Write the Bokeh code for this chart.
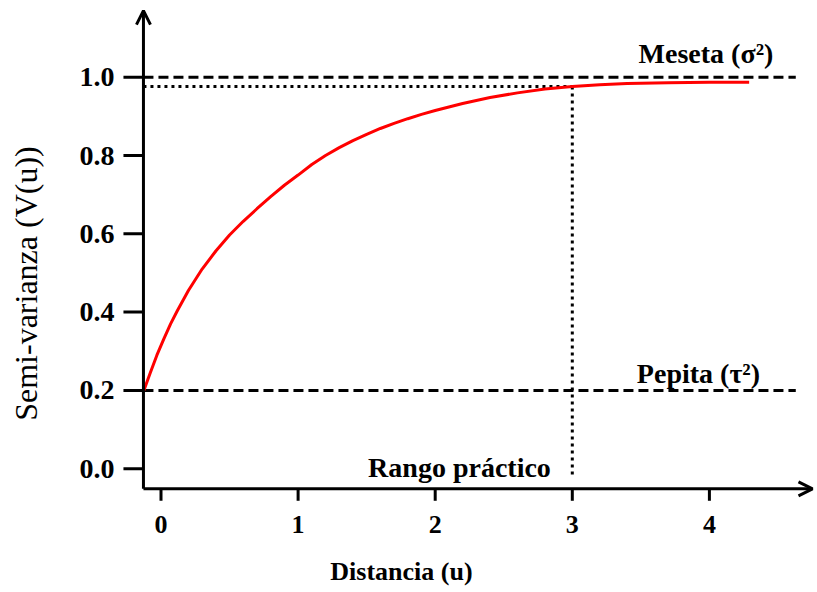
import numpy as np
from bokeh.plotting import figure
from bokeh.models import Range1d, Arrow, OpenHead, Label, ColumnDataSource
from bokeh.core.properties import value
from bokeh.embed import file_html
from bokeh.resources import INLINE

# ---- data ----
distance = [-0.125, -0.08, -0.03, 0.02, 0.07, 0.12, 0.2, 0.3, 0.4, 0.5, 0.6, 0.7, 0.8, 0.9,
            1.0, 1.1, 1.2, 1.3, 1.4, 1.5, 1.6, 1.7, 1.8, 1.9, 2.0, 2.2, 2.4, 2.6, 2.8, 3.0,
            3.2, 3.4, 3.7, 4.0, 4.29]
semivariance = [0.200, 0.243, 0.290, 0.331, 0.370, 0.404, 0.455, 0.510, 0.556, 0.597, 0.632,
                0.664, 0.695, 0.724, 0.750, 0.777, 0.800, 0.820, 0.838, 0.854, 0.869, 0.882,
                0.894, 0.905, 0.915, 0.933, 0.948, 0.960, 0.970, 0.976, 0.981, 0.984, 0.986,
                0.987, 0.987]
x_ticks = [0, 1, 2, 3, 4]
x_tick_labels = ["0", "1", "2", "3", "4"]
y_ticks = [0.0, 0.2, 0.4, 0.6, 0.8, 1.0]
y_tick_labels = ["0.0", "0.2", "0.4", "0.6", "0.8", "1.0"]
nugget = 0.2          # Pepita
sill = 1.0            # Meseta
practical_range = 3.0
practical_level = 0.976
ref_line_end = 4.63

# axis geometry (data units)
x_axis_at = -0.128     # where the vertical axis crosses
y_axis_at = -0.0513    # where the horizontal axis crosses
x_tip, y_tip = 4.752, 1.170

PX_X = 137.1   # pixels per x unit
PX_Y = 391.5   # pixels per y unit
x_min, x_max = -160.5 / PX_X, (817 - 160.5) / PX_X
y_min, y_max = (468.2 - 592) / PX_Y, 468.2 / PX_Y

SERIF = "Liberation Serif"

p = figure(width=817, height=592, x_range=Range1d(x_min, x_max), y_range=Range1d(y_min, y_max),
           output_backend="svg", toolbar_location=None, min_border=0)
p.axis.visible = False
p.grid.visible = False
p.outline_line_color = None
p.background_fill_color = "white"
p.border_fill_color = "white"

# reference lines
p.line([x_axis_at, ref_line_end], [sill, sill], line_color="black", line_width=3, line_dash="10 5")
p.line([x_axis_at, ref_line_end], [nugget, nugget], line_color="black", line_width=3, line_dash="10 5")
p.line([x_axis_at, practical_range], [practical_level, practical_level], line_color="black",
       line_width=3, line_dash="3 4")
p.line([practical_range, practical_range], [practical_level, -0.025], line_color="black",
       line_width=3, line_dash="3 4")

# variogram curve
p.line(distance, semivariance, line_color="#ff0000", line_width=3)

# axes with arrow heads
p.add_layout(Arrow(end=OpenHead(size=14, line_width=3, line_color="black"),
                   x_start=x_axis_at, y_start=y_axis_at, x_end=x_axis_at, y_end=y_tip,
                   line_width=3, line_color="black"))
p.add_layout(Arrow(end=OpenHead(size=14, line_width=3, line_color="black"),
                   x_start=x_axis_at, y_start=y_axis_at, x_end=x_tip, y_end=y_axis_at,
                   line_width=3, line_color="black"))

# ticks
ysrc = ColumnDataSource(dict(y=y_ticks, label=y_tick_labels))
xsrc = ColumnDataSource(dict(x=x_ticks, label=x_tick_labels))
p.segment(x0=x_axis_at - 20 / PX_X, x1=x_axis_at, y0="y", y1="y", source=ysrc,
          line_color="black", line_width=3)
p.segment(x0="x", x1="x", y0=y_axis_at, y1=y_axis_at - 12 / PX_Y, source=xsrc,
          line_color="black", line_width=3)
p.text(x=x_axis_at - 29 / PX_X, y="y", text="label", source=ysrc,
       text_font=value(SERIF), text_font_style="bold", text_font_size="28px",
       text_align="right", text_baseline="middle", text_color="black")
p.text(x="x", y=y_axis_at - 36 / PX_Y, text="label", source=xsrc,
       text_font=value(SERIF), text_font_style="bold", text_font_size="26px",
       text_align="center", text_baseline="middle", text_color="black")

# annotations
def lab(x, y, text, size="28px", style="bold", align="center", baseline="alphabetic", angle=0):
    p.add_layout(Label(x=x, y=y, text=text, text_font=SERIF, text_font_size=size,
                       text_font_style=style, text_align=align, text_baseline=baseline,
                       text_color="black", angle=angle))

lab(3.975, 1.0605, "Meseta (σ²)")
lab(3.92, 0.243, "Pepita (τ²)")
lab(2.177, 0.003, "Rango práctico")
lab(1.754, -0.2626, "Distancia (u)", size="26px", baseline="middle")
lab(-0.988, 0.473, "Semi-varianza (V(u))", size="32px", style="normal", baseline="middle",
    angle=np.pi / 2)

open("out.html", "w").write(file_html(p, INLINE))
